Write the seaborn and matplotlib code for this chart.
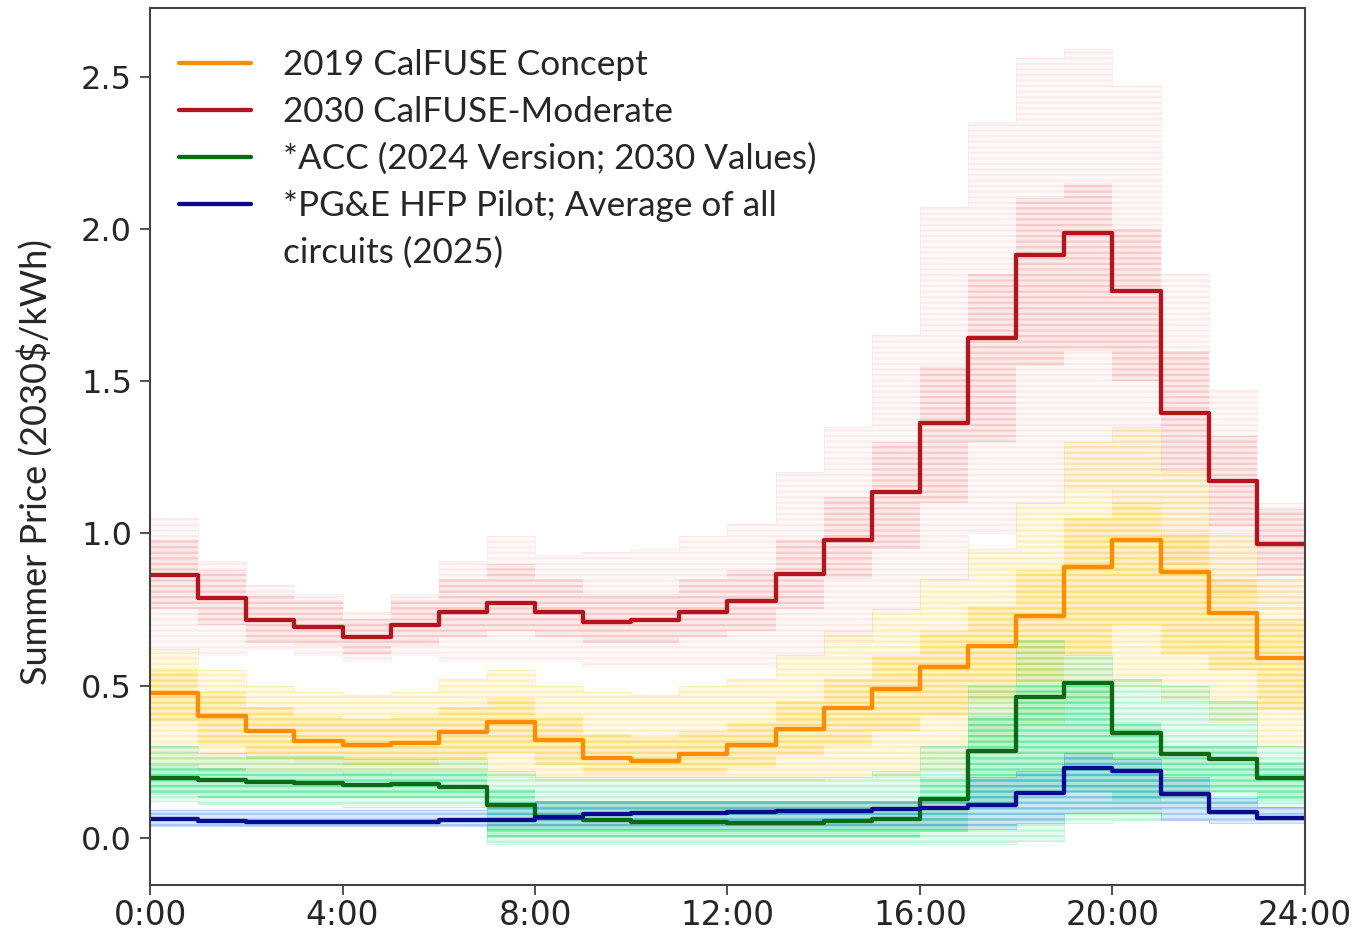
import numpy as np
import pandas as pd
import matplotlib
matplotlib.use("Agg")
import matplotlib.pyplot as plt
from matplotlib.lines import Line2D
import seaborn as sns

# ---------------- data ----------------
hours = list(range(24))
tick_hours = [0, 4, 8, 12, 16, 20, 24]
tick_labels = ["0:00", "4:00", "8:00", "12:00", "16:00", "20:00", "24:00"]

calfuse_2019 = [0.476, 0.400, 0.351, 0.318, 0.305, 0.312, 0.348, 0.381, 0.322, 0.263, 0.253, 0.276,
                0.305, 0.358, 0.427, 0.490, 0.562, 0.629, 0.729, 0.890, 0.978, 0.873, 0.738, 0.590]
calfuse_2030 = [0.863, 0.788, 0.716, 0.693, 0.660, 0.700, 0.742, 0.770, 0.742, 0.709, 0.716, 0.742,
                0.778, 0.865, 0.978, 1.135, 1.361, 1.641, 1.915, 1.987, 1.795, 1.395, 1.171, 0.965]
acc_2024 = [0.198, 0.190, 0.182, 0.179, 0.175, 0.177, 0.166, 0.108, 0.064, 0.059, 0.053, 0.052,
            0.050, 0.050, 0.056, 0.061, 0.126, 0.286, 0.462, 0.510, 0.344, 0.274, 0.258, 0.196]
pge_hfp = [0.061, 0.056, 0.053, 0.053, 0.053, 0.053, 0.059, 0.059, 0.070, 0.077, 0.081, 0.083,
           0.085, 0.087, 0.089, 0.094, 0.097, 0.108, 0.148, 0.229, 0.220, 0.144, 0.084, 0.064]

series_names = ["2019 CalFUSE Concept", "2030 CalFUSE-Moderate",
                "*ACC (2024 Version; 2030 Values)", "*PG&E HFP Pilot; Average of all"]
legend_extra = "circuits (2025)"
line_colors = ["#ff8c00", "#b2151b", "#0b6a12", "#0a0a8c"]

# background ranges of the many circuit-level price curves (outer range, dense core)
red_hi = [1.05, 0.91, 0.83, 0.80, 0.74, 0.80, 0.91, 0.99, 0.93, 0.94, 0.95, 0.99,
          1.03, 1.20, 1.35, 1.65, 2.07, 2.35, 2.56, 2.59, 2.47, 1.85, 1.47, 1.10]
red_lo = [0.62, 0.60, 0.62, 0.60, 0.58, 0.60, 0.58, 0.58, 0.58, 0.56, 0.56, 0.56,
          0.56, 0.60, 0.65, 0.75, 0.85, 1.00, 1.10, 1.15, 1.10, 0.90, 0.80, 0.75]
red_core_hi = [0.98, 0.88, 0.80, 0.78, 0.72, 0.78, 0.85, 0.90, 0.85, 0.80, 0.80, 0.85,
               0.88, 0.98, 1.12, 1.30, 1.55, 1.85, 2.10, 2.15, 2.00, 1.60, 1.32, 1.08]
red_core_lo = [0.75, 0.70, 0.64, 0.63, 0.60, 0.63, 0.66, 0.68, 0.66, 0.64, 0.64, 0.66,
               0.68, 0.75, 0.85, 0.95, 1.10, 1.30, 1.55, 1.60, 1.50, 1.20, 1.02, 0.86]

yel_hi = [0.62, 0.55, 0.50, 0.48, 0.47, 0.48, 0.52, 0.55, 0.50, 0.48, 0.47, 0.50,
          0.52, 0.60, 0.68, 0.75, 0.85, 0.95, 1.10, 1.30, 1.35, 1.20, 1.00, 0.85]
yel_lo = [0.24, 0.22, 0.22, 0.22, 0.21, 0.22, 0.22, 0.20, 0.19, 0.19, 0.19, 0.19,
          0.19, 0.19, 0.20, 0.20, 0.22, 0.30, 0.38, 0.45, 0.50, 0.45, 0.38, 0.30]
yel_core_hi = [0.55, 0.48, 0.43, 0.40, 0.39, 0.40, 0.43, 0.46, 0.40, 0.34, 0.33, 0.35,
               0.38, 0.45, 0.52, 0.60, 0.68, 0.76, 0.88, 1.05, 1.10, 1.00, 0.85, 0.72]
yel_core_lo = [0.38, 0.30, 0.26, 0.25, 0.24, 0.24, 0.26, 0.28, 0.24, 0.21, 0.21, 0.21,
               0.23, 0.27, 0.30, 0.35, 0.40, 0.45, 0.50, 0.60, 0.70, 0.60, 0.55, 0.42]

grn_hi = [0.30, 0.28, 0.27, 0.27, 0.26, 0.26, 0.26, 0.22, 0.20, 0.20, 0.20, 0.20,
          0.20, 0.20, 0.20, 0.22, 0.30, 0.50, 0.65, 0.60, 0.52, 0.50, 0.45, 0.30]
grn_lo = [0.12, 0.11, 0.11, 0.11, 0.10, 0.10, 0.10, -0.02, -0.02, -0.02, -0.02, -0.02,
          -0.02, -0.02, -0.02, -0.02, -0.02, -0.02, -0.01, 0.05, 0.06, 0.10, 0.10, 0.10]
grn_core_hi = [0.24, 0.23, 0.22, 0.22, 0.22, 0.22, 0.22, 0.16, 0.12, 0.12, 0.12, 0.12,
               0.12, 0.12, 0.12, 0.12, 0.20, 0.40, 0.50, 0.50, 0.38, 0.30, 0.30, 0.25]
grn_core_lo = [0.14, 0.13, 0.13, 0.13, 0.13, 0.13, 0.13, 0.00, 0.00, 0.00, 0.00, 0.00,
               0.00, 0.00, 0.00, 0.00, 0.02, 0.10, 0.15, 0.15, 0.12, 0.15, 0.15, 0.12]

blu_hi = [0.09, 0.09, 0.09, 0.09, 0.09, 0.09, 0.09, 0.10, 0.12, 0.12, 0.12, 0.12,
          0.12, 0.12, 0.12, 0.12, 0.12, 0.20, 0.22, 0.28, 0.26, 0.20, 0.13, 0.10]
blu_lo = [0.04, 0.04, 0.04, 0.04, 0.04, 0.04, 0.04, 0.03, 0.03, 0.03, 0.03, 0.03,
          0.03, 0.03, 0.03, 0.03, 0.03, 0.03, 0.05, 0.08, 0.08, 0.06, 0.05, 0.05]

# ---------------- figure ----------------
sns.set_theme(style="white")
plt.rcParams["font.family"] = ["DejaVu Sans"]
plt.rcParams["hatch.linewidth"] = 1.6

fig = plt.figure(figsize=(13.65, 9.33), dpi=100)
ax = fig.add_axes([0.1099, 0.0514, 0.8461, 0.9400])

edges = hours + [24]


def ext(v):
    return list(v) + [v[-1]]


def band(lo, hi, col, face_alpha, hatch_alpha, hatch="---", edge_lw=0.7):
    # light translucent body
    ax.fill_between(edges, ext(lo), ext(hi), step="post", facecolor=col,
                    alpha=face_alpha, lw=0)
    # striped texture + faint hour-boundary outlines
    ax.fill_between(edges, ext(lo), ext(hi), step="post", facecolor="none",
                    edgecolor=matplotlib.colors.to_rgba(col, hatch_alpha),
                    hatch=hatch, lw=edge_lw)


band(red_lo, red_hi, "#ef7f7f", 0.04, 0.11)
band(red_core_lo, red_core_hi, "#ef7f7f", 0.12, 0.20, edge_lw=0)
band(yel_lo, yel_hi, "#ffcc2e", 0.11, 0.22)
band(yel_core_lo, yel_core_hi, "#ffc61a", 0.17, 0.28, edge_lw=0)
band(grn_lo, grn_hi, "#22dd7d", 0.10, 0.22)
band(grn_core_lo, grn_core_hi, "#1fe07c", 0.20, 0.32, edge_lw=0)
band(blu_lo, blu_hi, "#3c8ee6", 0.18, 0.32)

# main step lines
frames = []
for name, vals in zip(series_names, [calfuse_2019, calfuse_2030, acc_2024, pge_hfp]):
    frames.append(pd.DataFrame({"hour": edges, "price": ext(vals), "series": name}))
df = pd.concat(frames, ignore_index=True)

sns.lineplot(data=df, x="hour", y="price", hue="series", hue_order=series_names,
             palette=dict(zip(series_names, line_colors)), drawstyle="steps-post",
             linewidth=3.1, legend=False, ax=ax, estimator=None)

ax.set_xlim(0, 24)
ax.set_ylim(-0.155, 2.725)
ax.set_xticks(tick_hours)
ax.set_xticklabels(tick_labels)
ax.set_yticks([0.0, 0.5, 1.0, 1.5, 2.0, 2.5])
ax.set_yticklabels(["0.0", "0.5", "1.0", "1.5", "2.0", "2.5"])
ax.tick_params(axis="x", labelsize=23.5, length=7, width=1.2, color="#333333", pad=3, direction="out",
               bottom=True, labelfontfamily="DejaVu Sans")
ax.tick_params(axis="y", labelsize=23, length=7, width=1.2, color="#333333", pad=6, direction="out",
               left=True, labelfontfamily="DejaVu Sans")
ax.set_xlabel("")
ax.set_ylabel("Summer Price (2030$/kWh)", fontsize=26, family=["Lato", "DejaVu Sans"])
ax.yaxis.set_label_coords(-0.084, 0.482)
for sp in ax.spines.values():
    sp.set_color("#444444")
    sp.set_linewidth(1.5)

handles = [Line2D([], [], color=c, lw=3.1) for c in line_colors]
handles.append(Line2D([], [], color="none", lw=0))
leg = ax.legend(handles, series_names + [legend_extra], loc="upper left",
                bbox_to_anchor=(0.001, 0.985), frameon=False,
                prop={"family": ["Lato", "DejaVu Sans"], "size": 25.3},
                handlelength=2.05, handletextpad=0.9, labelspacing=0.42, borderpad=0.3)

fig.savefig("out.png", dpi=100)
